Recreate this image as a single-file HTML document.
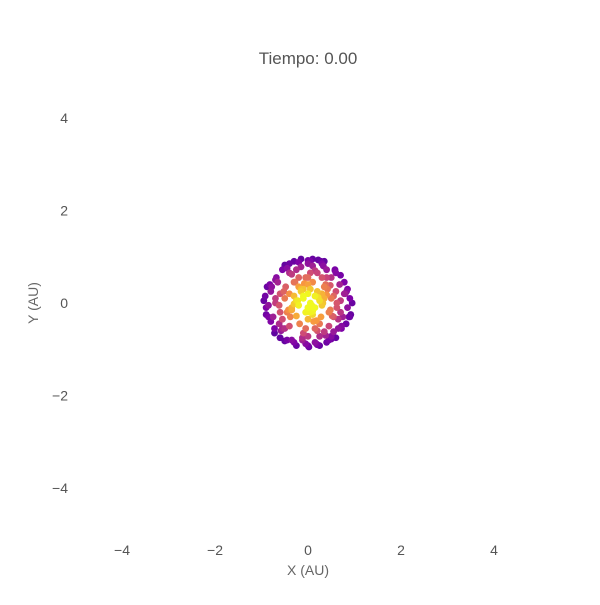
<!DOCTYPE html>
<html><head><meta charset="utf-8"><style>
body{margin:0;background:#fff;}
svg text{font-family:"Liberation Sans",sans-serif;}
</style></head><body>
<svg id="chart" width="600" height="600">
<rect width="600" height="600" fill="#fff"/>
<text x="308" y="64" text-anchor="middle" font-size="17" fill="#555">Tiempo: 0.00</text>
<g id="axes"></g>
<g id="pts"></g>
<text x="308" y="575" text-anchor="middle" font-size="14" fill="#666">X (AU)</text>
<text x="38" y="303" text-anchor="middle" font-size="14" fill="#666" transform="rotate(-90 38 303)">Y (AU)</text>
</svg>
<script>
const xTicks=[-4,-2,0,2,4];
const yTicks=[-4,-2,0,2,4];
const px=[0.05,-0.1,0.15,0.0,-0.2,0.22,0.1,-0.05,-0.3,0.3,0.05,-0.15,0.2,-0.25,0.35,-0.35,0.0,0.12,-0.08,0.28,
-0.4,0.42,0.1,-0.18,0.25,-0.45,0.48,0.0,-0.05,0.38,-0.3,0.15,-0.5,0.5,0.3,-0.2,0.55,-0.55,0.05,-0.4,
0.45,-0.1,0.6,-0.6,0.2,-0.35,0.62,-0.62,0.35,-0.5,0.0,0.7,-0.7,0.5,-0.25,0.25,-0.65,0.68,0.1,-0.12,
0.75,-0.75,0.4,-0.45,0.8,-0.8,0.55,-0.58,0.15,-0.3,0.85,-0.85,0.6,-0.2,0.3,-0.72,0.72,0.0,-0.5,0.45,
0.9,-0.9,0.65,-0.68,0.2,-0.4,0.92,-0.88,0.78,-0.8,0.35,-0.55,0.0,0.5,-0.15,0.25,-0.95,0.95,0.7,-0.72,
0.82,-0.6,0.4,-0.3,0.1,0.85,-0.82,0.6,-0.05,0.28,-0.5,0.58,-0.9,0.88,0.12,-0.25,0.0,-0.1,0.15,0.05,
-0.3,0.32,-0.42,0.4,-0.2,0.18,0.0,-0.52,0.52,-0.1,0.1,-0.35,0.35,-0.6,0.62,0.25,-0.22,0.45,-0.48,0.0,
0.08,-0.15,0.3,-0.38,0.55,-0.7,0.7,-0.05,0.2,-0.28,0.4,-0.62,0.15,-0.4,0.65,-0.12,0.02,0.48,-0.55,0.38,
-0.78,0.78,-0.35,0.33,-0.6,0.58,0.0,-0.15,0.18,-0.85,0.83,-0.45,0.5,-0.7,0.72,-0.25,0.22,0.9,-0.92,0.05];
const py=[0.0,0.1,-0.1,0.2,-0.05,0.12,-0.25,-0.2,0.15,-0.05,0.3,0.3,0.25,-0.28,0.1,-0.1,-0.35,-0.4,0.42,-0.3,
0.2,0.3,0.45,-0.45,-0.45,-0.2,-0.15,0.55,-0.55,0.4,0.45,-0.55,0.1,0.1,0.55,0.55,-0.3,-0.35,0.65,-0.5,
-0.5,-0.65,0.25,0.2,0.65,0.62,-0.1,-0.05,-0.62,-0.55,-0.72,0.05,0.0,0.55,0.72,-0.72,0.45,0.4,0.8,-0.8,
-0.3,-0.3,0.72,0.75,0.2,0.25,-0.62,-0.6,-0.85,-0.85,-0.1,-0.05,0.65,0.88,0.85,-0.55,-0.5,0.92,0.82,-0.8,
0.1,-0.1,-0.55,0.55,-0.9,0.85,-0.25,0.35,0.45,-0.4,0.9,0.72,-0.92,-0.78,0.95,-0.92,0.05,0.0,0.6,-0.65,
-0.45,-0.75,-0.85,0.9,0.95,0.3,0.4,-0.75,-0.88,0.9,-0.82,0.7,-0.25,-0.3,-0.1,0.05,-0.1,0.3,0.15,-0.2,
-0.02,0.0,-0.15,0.18,0.35,-0.38,0.4,0.25,-0.28,0.15,-0.18,-0.15,0.35,-0.2,0.0,0.05,0.05,-0.2,0.35,-0.1,
-0.05,0.25,0.2,-0.3,0.15,0.1,-0.2,0.55,-0.6,0.45,0.55,-0.45,0.7,0.65,-0.35,-0.75,-0.95,0.38,-0.55,-0.7,
0.35,0.2,-0.8,0.8,-0.75,0.72,0.85,0.78,-0.88,-0.3,0.25,-0.8,-0.72,0.5,-0.55,-0.92,0.93,-0.3,0.15,0.9];
const X=v=>308+v*46.5, Y=v=>303-v*46.3;
const NS="http://www.w3.org/2000/svg";
const ax=document.getElementById('axes');
xTicks.forEach(t=>{const e=document.createElementNS(NS,'text');
e.setAttribute('x',X(t));e.setAttribute('y',555);e.setAttribute('text-anchor','middle');e.setAttribute('font-size','14');e.setAttribute('fill','#555');
e.textContent=(t<0?'\u2212':'')+Math.abs(t);


ax.appendChild(e);});
yTicks.forEach(t=>{const e=document.createElementNS(NS,'text');
e.setAttribute('x',68);e.setAttribute('y',Y(t)+5);e.setAttribute('text-anchor','end');e.setAttribute('font-size','14');e.setAttribute('fill','#555');
e.textContent=(t<0?'\u2212':'')+Math.abs(t);


ax.appendChild(e);});
const stops=[[13,8,135],[126,3,168],[204,71,120],[248,149,64],[240,249,33]];
function plasma(t){t=Math.max(0,Math.min(1,t));const s=t*4,i=Math.min(3,Math.floor(s)),f=s-i;
return 'rgb('+stops[i].map((c,k)=>Math.round(c+(stops[i+1][k]-c)*f)).join(',')+')';}
const idx=px.map((_,i)=>i).sort((a,b)=>Math.hypot(px[b],py[b])-Math.hypot(px[a],py[a]));
const g=document.getElementById('pts');
idx.forEach(i=>{const r=Math.hypot(px[i],py[i]);const c=document.createElementNS(NS,'circle');
c.setAttribute('cx',X(px[i]));c.setAttribute('cy',Y(py[i]));c.setAttribute('r',3.4);
c.setAttribute('fill',plasma(1.2-r*1.05));


g.appendChild(c);});
</script>
</body></html>
